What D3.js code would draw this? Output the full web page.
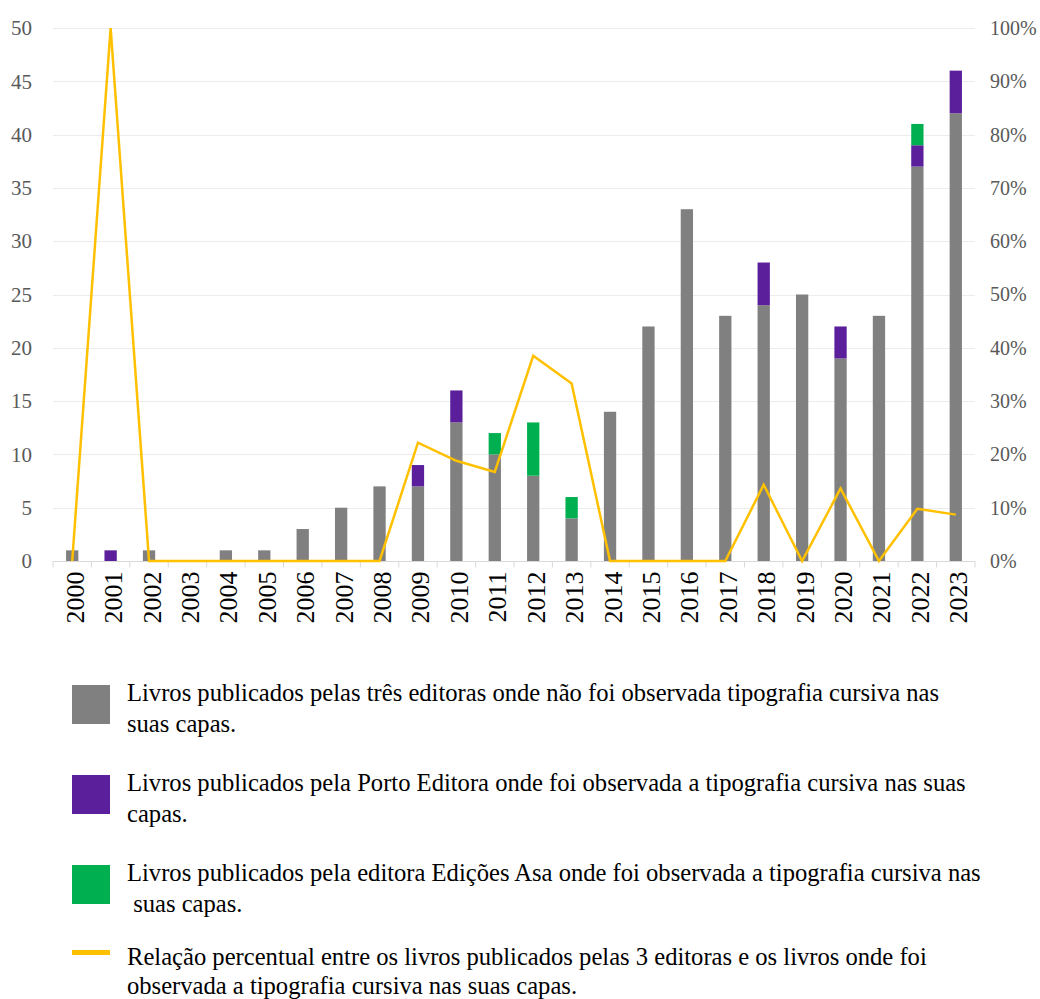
<!DOCTYPE html>
<html>
<head>
<meta charset="utf-8">
<script src="https://cdn.jsdelivr.net/npm/d3@7"></script>
<style>
  html, body { margin: 0; padding: 0; background: #fff; }
  svg { display: block; }
</style>
</head>
<body>
<svg id="chart" width="1040" height="999"></svg>
<script>
const years = ["2000","2001","2002","2003","2004","2005","2006","2007","2008","2009","2010","2011","2012","2013","2014","2015","2016","2017","2018","2019","2020","2021","2022","2023"];
const semCursiva = [1,0,1,0,1,1,3,5,7,7,13,10,8,4,14,22,33,23,24,25,19,23,37,42];
const portoEditora = [0,1,0,0,0,0,0,0,0,2,3,0,0,0,0,0,0,0,4,0,3,0,2,4];
const edicoesAsa = [0,0,0,0,0,0,0,0,0,0,0,2,5,2,0,0,0,0,0,0,0,0,2,0];
const percentual = [0,100,0,0,0,0,0,0,0,22.2,18.8,16.7,38.5,33.3,0,0,0,0,14.3,0,13.6,0,9.8,8.7];
const leftTicks = [0,5,10,15,20,25,30,35,40,45,50];
const rightTicks = [0,10,20,30,40,50,60,70,80,90,100];
const seriesKeys = ["semCursiva","portoEditora","edicoesAsa"];
const seriesColors = ["#808080","#5B1F9B","#00B050"];
const lineColor = "#FFC000";
const legendLabels = [
  ["Livros publicados pelas três editoras onde não foi observada tipografia cursiva nas", "suas capas."],
  ["Livros publicados pela Porto Editora onde foi observada a tipografia cursiva nas suas", "capas."],
  ["Livros publicados pela editora Edições Asa onde foi observada a tipografia cursiva nas", " suas capas."],
  ["Relação percentual entre os livros publicados pelas 3 editoras e os livros onde foi", "observada a tipografia cursiva nas suas capas."]
];

(function () {
const svg = d3.select("#chart");
const font = "'Liberation Serif', 'Times New Roman', serif";
const pLeft = 53, pRight = 975, pTop = 28, pBottom = 561;

const x = d3.scaleBand().domain(years).range([pLeft, pRight]).paddingInner(0.68).paddingOuter(0.34);
const y = d3.scaleLinear().domain([0, 50]).range([pBottom, pTop]);
const y2 = d3.scaleLinear().domain([0, 100]).range([pBottom, pTop]);

// gridlines
svg.append("g").selectAll("line").data(leftTicks.filter(d => d > 0)).join("line")
  .attr("x1", pLeft).attr("x2", pRight)
  .attr("y1", d => Math.round(y(d)) + 0.5).attr("y2", d => Math.round(y(d)) + 0.5)
  .attr("stroke", "#ececec").attr("stroke-width", 1);

// stacked bars
const table = years.map((yr, i) => ({year: yr, semCursiva: semCursiva[i], portoEditora: portoEditora[i], edicoesAsa: edicoesAsa[i]}));
const stack = d3.stack().keys(seriesKeys)(table);
svg.append("g").selectAll("g").data(stack).join("g")
  .attr("fill", (d, i) => seriesColors[i])
  .selectAll("rect").data(d => d.filter(p => p[1] - p[0] > 0)).join("rect")
  .attr("x", d => x(d.data.year))
  .attr("width", x.bandwidth())
  .attr("y", d => y(d[1]))
  .attr("height", d => y(d[0]) - y(d[1]));

// x axis
const step = x.step();
const xAxisG = svg.append("g").attr("transform", `translate(0,${pBottom + 0.5})`);
xAxisG.append("line").attr("x1", pLeft).attr("x2", pRight).attr("stroke", "#d9d9d9");
const boundaries = d3.range(years.length + 1).map(i => pLeft + i * step);
xAxisG.selectAll("line.tk").data(boundaries).join("line").attr("class", "tk")
  .attr("x1", d => d).attr("x2", d => d).attr("y1", 0).attr("y2", 6)
  .attr("stroke", "#d9d9d9");
xAxisG.selectAll("text").data(years).join("text")
  .attr("transform", d => `translate(${x(d) + x.bandwidth() / 2 + 11.5},10) rotate(-90)`)
  .attr("text-anchor", "end")
  .attr("font-family", font).attr("font-size", 26).attr("fill", "#000")
  .text(d => d);

// left axis
const yAxis = d3.axisLeft(y).tickValues(leftTicks).tickSize(0).tickPadding(0);
svg.append("g").attr("transform", `translate(${pLeft - 21},0)`).call(yAxis)
  .call(g => g.select(".domain").remove())
  .call(g => g.selectAll("text").attr("font-family", font).attr("font-size", 21).attr("fill", "#595959"));

// right axis
const y2Axis = d3.axisRight(y2).tickValues(rightTicks).tickSize(0).tickPadding(0).tickFormat(d => d + "%");
svg.append("g").attr("transform", `translate(${pRight + 15},0)`).call(y2Axis)
  .call(g => g.select(".domain").remove())
  .call(g => g.selectAll("text").attr("font-family", font).attr("font-size", 20).attr("fill", "#595959"));

// line
const line = d3.line().x((d, i) => x(years[i]) + x.bandwidth() / 2).y(d => y2(d));
svg.append("path").datum(percentual)
  .attr("d", line).attr("fill", "none")
  .attr("stroke", lineColor).attr("stroke-width", 2.5).attr("stroke-linejoin", "miter");

// legend
const legendY = [685, 775, 865, 952];
const lineGap = [31, 31, 31, 29];
const lg = svg.append("g");
legendLabels.forEach((lines, i) => {
  const g = lg.append("g");
  if (i < 3) {
    g.append("rect").attr("x", 72).attr("y", legendY[i]).attr("width", 38).attr("height", 39)
      .attr("fill", seriesColors[i]);
  } else {
    g.append("rect").attr("x", 72).attr("y", legendY[i] - 2).attr("width", 38).attr("height", 5)
      .attr("fill", lineColor);
  }
  const baseY = i < 3 ? legendY[i] + 16 : legendY[i] + 13;
  lines.forEach((t, j) => {
    g.append("text").attr("x", 127).attr("y", baseY + j * lineGap[i])
      .attr("font-family", font).attr("font-size", 24.6).attr("fill", "#000")
      .attr("xml:space", "preserve")
      .text(t);
  });
});
})();
</script>
</body>
</html>
